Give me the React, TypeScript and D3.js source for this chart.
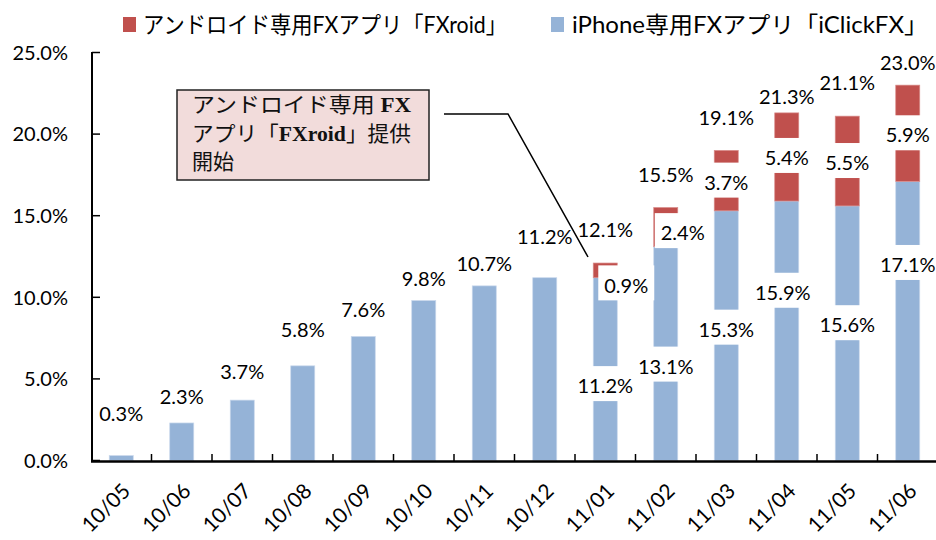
import React, { useEffect, useRef } from 'react';
import * as d3 from 'd3';

const months = ['10/05', '10/06', '10/07', '10/08', '10/09', '10/10', '10/11', '10/12', '11/01', '11/02', '11/03', '11/04', '11/05', '11/06'];
const iphoneShare = [0.3, 2.3, 3.7, 5.8, 7.6, 9.8, 10.7, 11.2, 11.2, 13.1, 15.3, 15.9, 15.6, 17.1];
const androidShare = [0, 0, 0, 0, 0, 0, 0, 0, 0.9, 2.4, 3.7, 5.4, 5.5, 5.9];
const totalShare = [0.3, 2.3, 3.7, 5.8, 7.6, 9.8, 10.7, 11.2, 12.1, 15.5, 19.1, 21.3, 21.1, 23.0];
const yTicks = [0, 5, 10, 15, 20, 25];
const legendLabels = ['アンドロイド専用FXアプリ「FXroid」', 'iPhone専用FXアプリ「iClickFX」'];
// annotation lines, split into [text, bold?] pieces
const noteLines: [string, boolean][][] = [
  [['アンドロイド専用 ', false], ['FX', true]],
  [['アプリ「', false], ['FXroid', true], ['」提供', false]],
  [['開始', false]],
];

// label placement tweaks (px), as in the hand-arranged original
const totalDy = [-42, -26, -28, -36, -27, -22, -22, -41, -33, -33, -33, -16, -33, -22];
const iphoneDy = [0, 0, 0, 0, 0, 0, 0, 0, 17, 13, -6, -38, -8, -56];
const iphoneDx = [0, 0, 0, 0, 0, 0, 0, 0, 0, 0, 0, -4, 0, 0];
const androidDy = [0, 0, 0, 0, 0, 0, 0, 0, 15, 6, 2, 1, 2, 2];
const androidDx = [0, 0, 0, 0, 0, 0, 0, 0, 21, 17, 0, 0, 0, 0];

const W = 936;
const H = 540;
const BLUE = '#95b3d7';
const RED = '#c0504d';
const NUM_FONT = "Lato, 'Noto Sans CJK JP', sans-serif";

export default function App() {
  const ref = useRef<SVGSVGElement>(null);

  useEffect(() => {
    const svg = d3.select(ref.current);
    svg.selectAll('*').remove();

    const x = d3.scaleBand<string>().domain(months).range([91, 938]).paddingInner(0.603).paddingOuter(0.3015);
    const y = d3.scaleLinear().domain([0, 25]).range([460.5, 52.5]);
    const step = x.step();
    const cx = (i: number) => (x(months[i]) as number) + x.bandwidth() / 2;

    // legend
    const lg = svg.append('g');
    const legendItems = [
      { color: RED, text: legendLabels[0], sx: 123, tx: 143, len: 364 },
      { color: BLUE, text: legendLabels[1], sx: 551, tx: 572, len: 356 },
    ];
    legendItems.forEach((d) => {
      lg.append('rect').attr('x', d.sx).attr('y', 17).attr('width', 13).attr('height', 15).attr('fill', d.color);
      lg.append('text').attr('x', d.tx).attr('y', 33).attr('font-family', NUM_FONT).attr('font-size', 23)
        .attr('textLength', d.len).attr('lengthAdjust', 'spacingAndGlyphs').attr('fill', '#000').text(d.text);
    });

    // y axis
    const ya = svg.append('g');
    ya.append('line').attr('x1', 92).attr('x2', 92).attr('y1', y(25) - 0.5).attr('y2', y(0) + 1).attr('stroke', '#000').attr('stroke-width', 2);
    yTicks.forEach((t) => {
      ya.append('line').attr('x1', 92).attr('x2', 100).attr('y1', y(t)).attr('y2', y(t)).attr('stroke', '#000').attr('stroke-width', 1.5);
      ya.append('text').attr('x', 68).attr('y', y(t)).attr('dy', '0.36em').attr('text-anchor', 'end')
        .attr('font-family', NUM_FONT).attr('font-size', 20).attr('fill', '#000').text(d3.format('.1f')(t) + '%');
    });

    // bars
    const bars = svg.append('g');
    months.forEach((m, i) => {
      bars.append('rect').attr('x', x(m) as number).attr('width', x.bandwidth())
        .attr('y', y(iphoneShare[i])).attr('height', y(0) - y(iphoneShare[i]))
        .attr('fill', BLUE).attr('stroke', '#c9d8ec').attr('stroke-width', 0.7);
      if (androidShare[i] > 0) {
        const top = iphoneShare[i] + androidShare[i];
        bars.append('rect').attr('x', x(m) as number).attr('width', x.bandwidth())
          .attr('y', y(top)).attr('height', y(iphoneShare[i]) - y(top))
          .attr('fill', RED).attr('stroke', '#d98c8a').attr('stroke-width', 0.7);
      }
    });

    // x axis
    const xa = svg.append('g');
    for (let k = 1; k < months.length; k++) {
      const tx = 91 + k * step;
      xa.append('line').attr('x1', tx).attr('x2', tx).attr('y1', 454).attr('y2', 461).attr('stroke', '#000').attr('stroke-width', 1.5);
    }
    xa.append('line').attr('x1', 91).attr('x2', W).attr('y1', 461.5).attr('y2', 461.5).attr('stroke', '#000').attr('stroke-width', 2.5);
    months.forEach((m, i) => {
      xa.append('text').attr('transform', `translate(${cx(i) + 5},${487}) rotate(-45)`)
        .attr('text-anchor', 'end').attr('dy', '0.36em').attr('font-family', NUM_FONT).attr('font-size', 21)
        .attr('fill', '#000').text(m);
    });

    // labels
    const lab = svg.append('g');
    const fmt = d3.format('.1f');
    const boxedLabel = (px: number, py: number, txt: string) => {
      const g = lab.append('g');
      const rect = g.append('rect').attr('fill', '#fff');
      const t = g.append('text').attr('x', px).attr('y', py).attr('dy', '0.36em').attr('text-anchor', 'middle')
        .attr('font-family', NUM_FONT).attr('font-size', 20).attr('fill', '#000').text(txt);
      const bb = (t.node() as SVGTextElement).getBBox();
      rect.attr('x', px - bb.width / 2 - 6).attr('width', bb.width + 12).attr('y', py - 20).attr('height', 35);
    };
    months.forEach((m, i) => {
      const top = iphoneShare[i] + androidShare[i];
      lab.append('text').attr('x', cx(i)).attr('y', y(top) + totalDy[i]).attr('dy', '0.36em').attr('text-anchor', 'middle')
        .attr('font-family', NUM_FONT).attr('font-size', 20).attr('fill', '#000').text(fmt(totalShare[i]) + '%');
      if (androidShare[i] > 0) {
        boxedLabel(cx(i) + iphoneDx[i], y(iphoneShare[i] / 2) + iphoneDy[i], fmt(iphoneShare[i]) + '%');
        boxedLabel(cx(i) + androidDx[i], y(iphoneShare[i] + androidShare[i] / 2) + androidDy[i], fmt(androidShare[i]) + '%');
      }
    });

    // annotation
    const an = svg.append('g');
    an.append('path').attr('d', d3.line()([[444, 114], [508, 114], [588, 257]]) as string)
      .attr('fill', 'none').attr('stroke', '#000').attr('stroke-width', 1.5);
    an.append('rect').attr('x', 177).attr('y', 90).attr('width', 252).attr('height', 90)
      .attr('fill', '#f2dcdb').attr('stroke', '#222').attr('stroke-width', 1.5);
    const noteFont = "'Liberation Serif', 'DejaVu Serif', 'Noto Sans CJK JP', serif";
    const lens = [219, 219, 0];
    noteLines.forEach((line, k) => {
      const t = an.append('text').attr('x', 192).attr('y', 112 + k * 28.5)
        .attr('font-family', noteFont).attr('font-size', 21).attr('fill', '#111');
      line.forEach(([s, b]) => {
        t.append('tspan').attr('font-weight', b ? 'bold' : 'normal').text(s);
      });
      if (lens[k]) t.attr('textLength', lens[k]).attr('lengthAdjust', 'spacingAndGlyphs');
    });
  }, []);

  return (
    <svg ref={ref} width={W} height={H} style={{ position: 'absolute', left: 0, top: 0, display: 'block', background: '#fff' }} />
  );
}
